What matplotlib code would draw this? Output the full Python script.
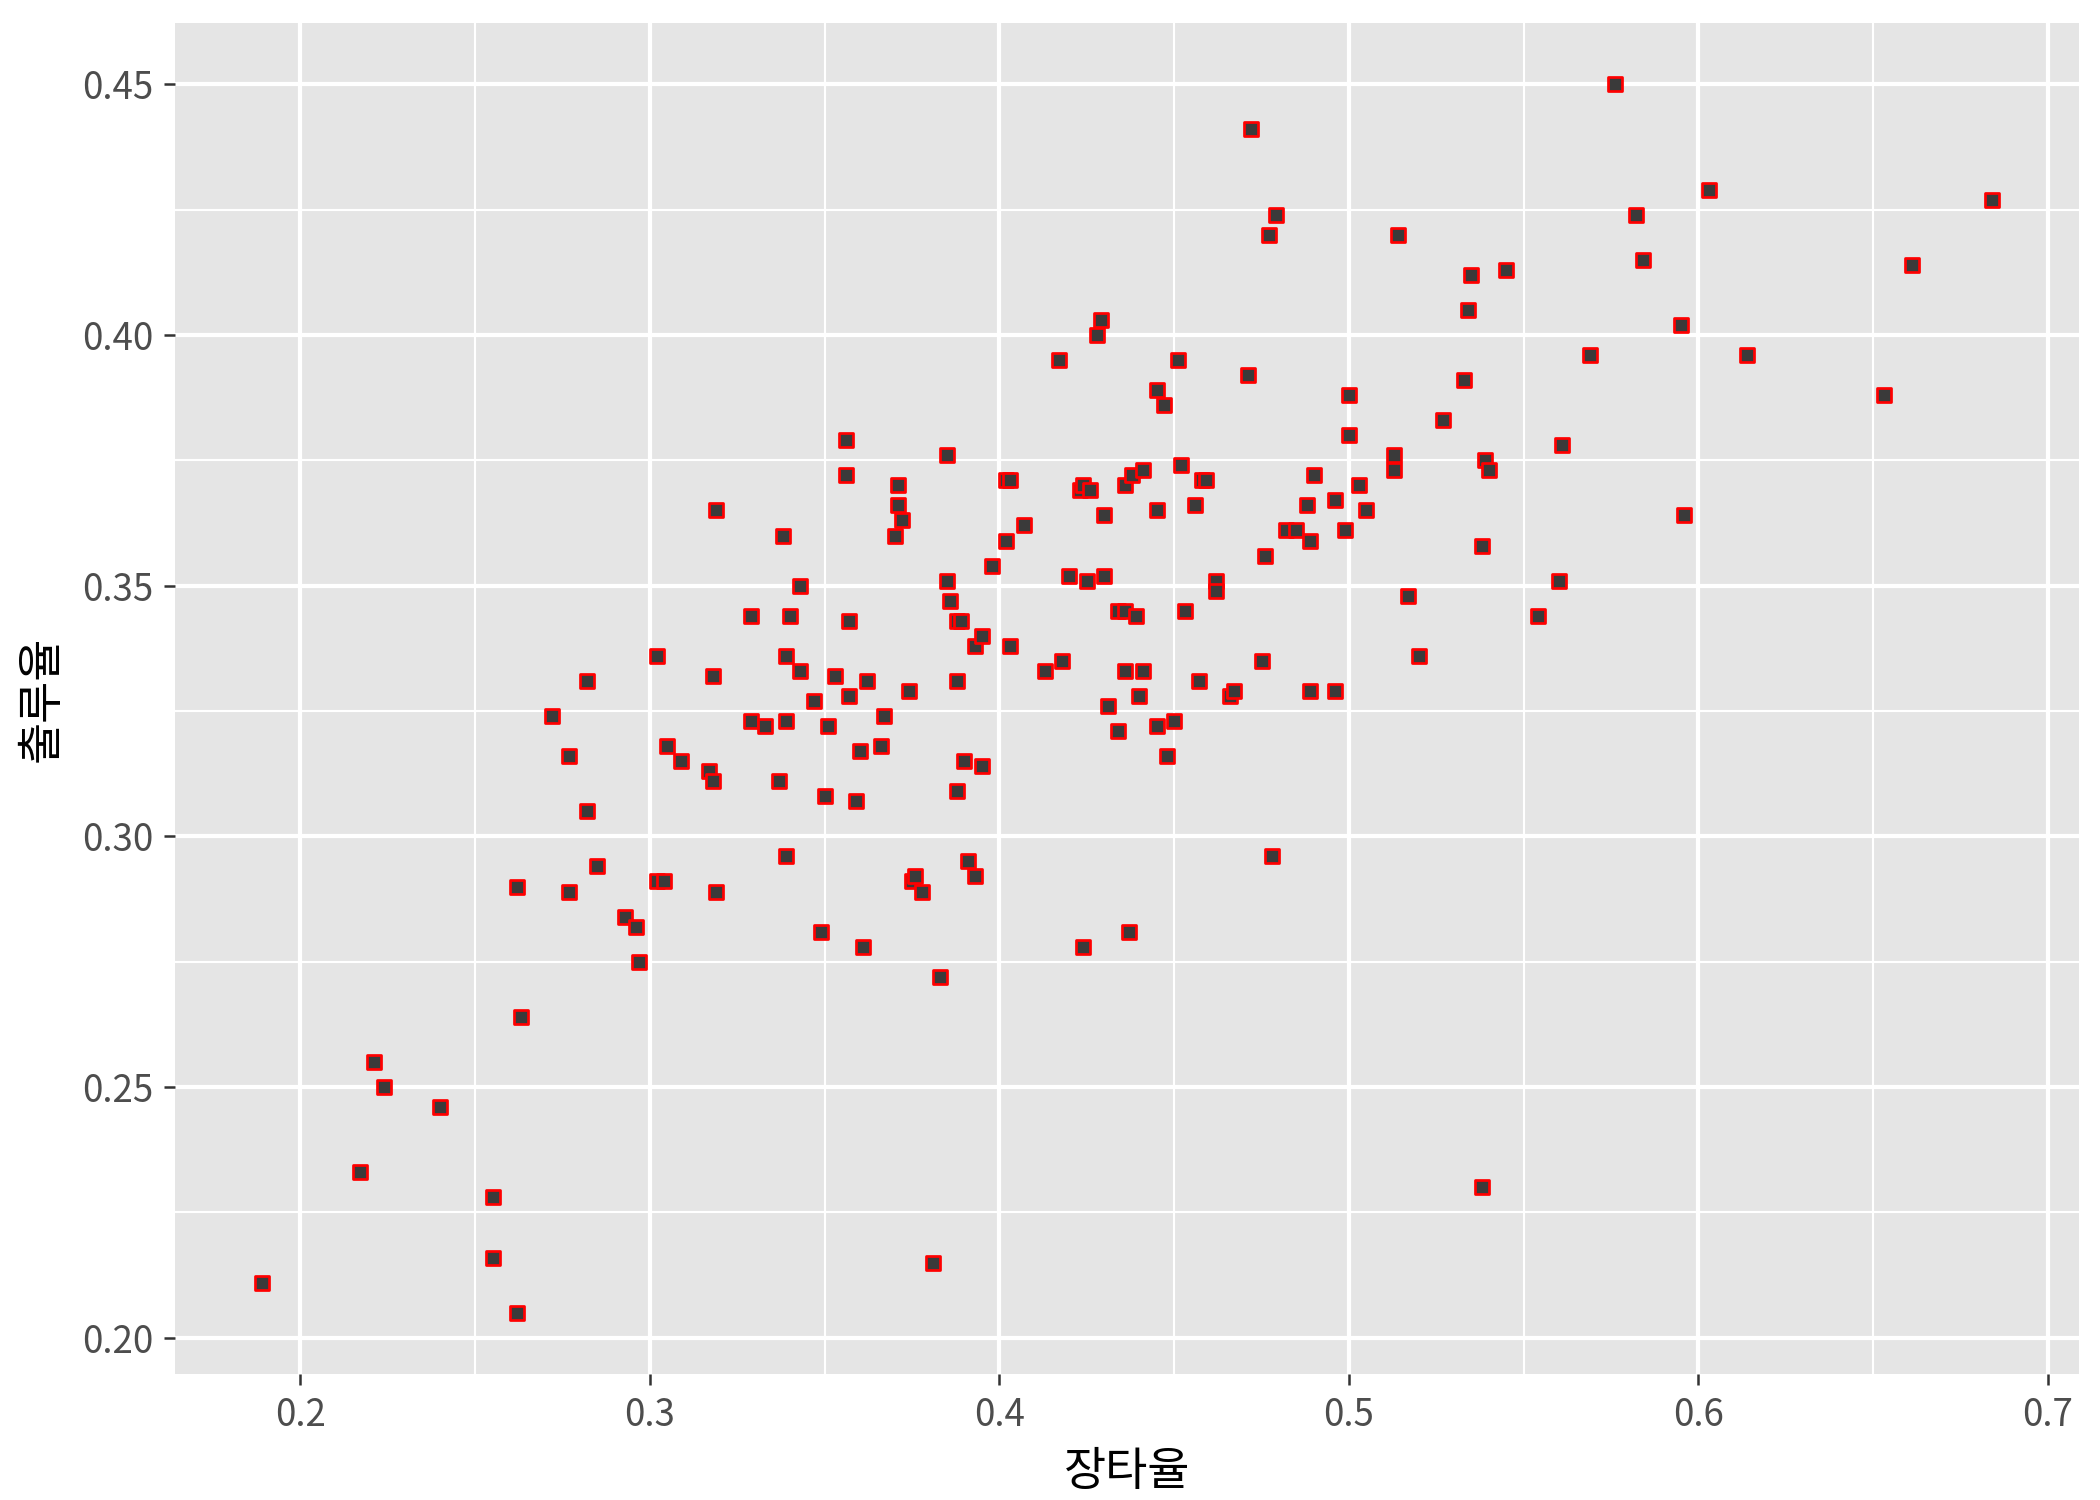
import matplotlib.pyplot as plt
import numpy as np

plt.rcParams["font.family"] = ["Noto Sans CJK KR", "DejaVu Sans"]

# 장타율 (slugging) and 출루율 (on-base) per player
slg = [
    0.189, 0.217, 0.221, 0.224, 0.240, 0.255, 0.255, 0.262, 0.262, 0.263,
    0.272, 0.277, 0.277, 0.282, 0.282, 0.285, 0.293, 0.296, 0.297, 0.302,
    0.302, 0.304, 0.305, 0.309, 0.317, 0.318, 0.318, 0.319, 0.319, 0.329,
    0.329, 0.333, 0.337, 0.338, 0.339, 0.339, 0.339, 0.340, 0.343, 0.343,
    0.347, 0.349, 0.350, 0.351, 0.353, 0.356, 0.356, 0.357, 0.357, 0.359,
    0.360, 0.361, 0.362, 0.366, 0.367, 0.370, 0.371, 0.371, 0.372, 0.374,
    0.375, 0.376, 0.378, 0.381, 0.383, 0.385, 0.385, 0.386, 0.388, 0.388,
    0.388, 0.389, 0.390, 0.391, 0.393, 0.393, 0.395, 0.395, 0.398, 0.402,
    0.403, 0.402, 0.403, 0.407, 0.413, 0.417, 0.418, 0.420, 0.423, 0.424,
    0.424, 0.425, 0.426, 0.428, 0.429, 0.430, 0.430, 0.431, 0.434, 0.434,
    0.436, 0.436, 0.436, 0.437, 0.438, 0.439, 0.440, 0.441, 0.441, 0.445,
    0.445, 0.445, 0.447, 0.448, 0.450, 0.451, 0.452, 0.453, 0.456, 0.457,
    0.458, 0.459, 0.462, 0.462, 0.466, 0.467, 0.471, 0.472, 0.475, 0.476,
    0.477, 0.478, 0.479, 0.482, 0.485, 0.488, 0.489, 0.489, 0.490, 0.496,
    0.496, 0.499, 0.500, 0.500, 0.503, 0.505, 0.513, 0.513, 0.514, 0.517,
    0.520, 0.527, 0.533, 0.534, 0.535, 0.538, 0.538, 0.539, 0.540, 0.545,
    0.554, 0.560, 0.561, 0.569, 0.576, 0.582, 0.584, 0.595, 0.596, 0.603,
    0.614, 0.653, 0.661, 0.684,
]
obp = [
    0.211, 0.233, 0.255, 0.250, 0.246, 0.228, 0.216, 0.205, 0.290, 0.264,
    0.324, 0.316, 0.289, 0.331, 0.305, 0.294, 0.284, 0.282, 0.275, 0.336,
    0.291, 0.291, 0.318, 0.315, 0.313, 0.311, 0.332, 0.365, 0.289, 0.344,
    0.323, 0.322, 0.311, 0.360, 0.336, 0.323, 0.296, 0.344, 0.350, 0.333,
    0.327, 0.281, 0.308, 0.322, 0.332, 0.379, 0.372, 0.343, 0.328, 0.307,
    0.317, 0.278, 0.331, 0.318, 0.324, 0.360, 0.370, 0.366, 0.363, 0.329,
    0.291, 0.292, 0.289, 0.215, 0.272, 0.376, 0.351, 0.347, 0.331, 0.309,
    0.343, 0.343, 0.315, 0.295, 0.292, 0.338, 0.314, 0.340, 0.354, 0.371,
    0.371, 0.359, 0.338, 0.362, 0.333, 0.395, 0.335, 0.352, 0.369, 0.370,
    0.278, 0.351, 0.369, 0.400, 0.403, 0.364, 0.352, 0.326, 0.345, 0.321,
    0.370, 0.345, 0.333, 0.281, 0.372, 0.344, 0.328, 0.373, 0.333, 0.389,
    0.365, 0.322, 0.386, 0.316, 0.323, 0.395, 0.374, 0.345, 0.366, 0.331,
    0.371, 0.371, 0.351, 0.349, 0.328, 0.329, 0.392, 0.441, 0.335, 0.356,
    0.420, 0.296, 0.424, 0.361, 0.361, 0.366, 0.359, 0.329, 0.372, 0.367,
    0.329, 0.361, 0.388, 0.380, 0.370, 0.365, 0.376, 0.373, 0.420, 0.348,
    0.336, 0.383, 0.391, 0.405, 0.412, 0.358, 0.230, 0.375, 0.373, 0.413,
    0.344, 0.351, 0.378, 0.396, 0.450, 0.424, 0.415, 0.402, 0.364, 0.429,
    0.396, 0.388, 0.414, 0.427,
]

x = np.array(slg)
y = np.array(obp)

fig = plt.figure(figsize=(7, 5), dpi=300)
ax = fig.add_axes([0.0835, 0.0839, 0.9063, 0.9009])

ax.set_facecolor("#E5E5E5")
for s in ax.spines.values():
    s.set_visible(False)

ax.scatter(x, y, s=11, marker="s", facecolor="#3A3A3A", edgecolor="red",
           linewidths=0.65, zorder=3)

# ggplot-style 5% expansion
xr = x.max() - x.min()
yr = y.max() - y.min()
ax.set_xlim(x.min() - 0.05 * xr, x.max() + 0.05 * xr)
ax.set_ylim(y.min() - 0.05 * yr, y.max() + 0.05 * yr)

xt = [0.2, 0.3, 0.4, 0.5, 0.6, 0.7]
yt = [0.20, 0.25, 0.30, 0.35, 0.40, 0.45]
ax.set_xticks(xt)
ax.set_xticklabels(["0.2", "0.3", "0.4", "0.5", "0.6", "0.7"])
ax.set_yticks(yt)
ax.set_yticklabels(["0.20", "0.25", "0.30", "0.35", "0.40", "0.45"])
ax.set_xticks([0.25, 0.35, 0.45, 0.55, 0.65], minor=True)
ax.set_yticks([0.225, 0.275, 0.325, 0.375, 0.425], minor=True)

ax.grid(which="major", color="white", linewidth=1.0, zorder=0)
ax.grid(which="minor", color="white", linewidth=0.5, zorder=0)
ax.set_axisbelow(True)

ax.tick_params(which="major", length=2.75, width=0.6, color="#333333",
               labelsize=8.8, labelcolor="#4D4D4D", pad=2.5)
ax.tick_params(which="minor", length=0)
for lab in ax.get_xticklabels() + ax.get_yticklabels():
    lab.set_fontweight("light")

ax.set_xlabel("장타율", fontsize=11, color="black", labelpad=3)
ax.set_ylabel("출루율", fontsize=11, color="black", labelpad=4)

fig.savefig("out.png", dpi=300, facecolor="white")
